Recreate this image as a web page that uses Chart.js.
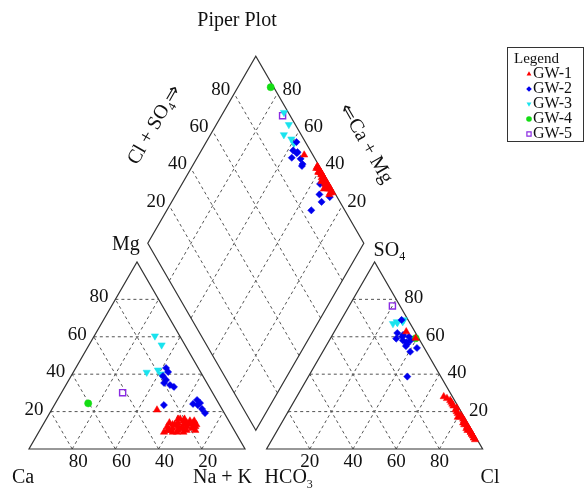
<!DOCTYPE html>
<html><head><meta charset="utf-8">
<script src="https://cdn.jsdelivr.net/npm/chart.js@4.4.0/dist/chart.umd.min.js"></script>
<style>html,body{margin:0;padding:0;background:#fff;}canvas{display:block;}</style>
</head><body>
<canvas id="c" width="588" height="490"></canvas>
<script>
// ---- DATA (milliequivalent percentages) ----
const seriesNames = ['GW-1','GW-2','GW-3','GW-4','GW-5'];
const tickValues = [20,40,60,80];

const gw1_Ca  = [33,31,30,29,28,27,26,26,25,24,24,23,23,22,22,21,21,20,20,19,19,18,18,17,18,16,16,17,28,30,25,27,30.3,22,24];
const gw1_Mg  = [9,10,12,9,11,13,10,13,12,9,14,11,16,13,10,15,12,14,16,11,13,15,12,14,10,13,15,12,14,10,13,9,20.9,16,11];
const gw1_SO4 = [6,8,10,12,7,14,9,16,11,18,13,20,15,5,22,17,24,10,26,12,19,28,8,21,15,23,6,27,11,13,9,17,62.7,59.2,25];
const gw1_Cl  = [93,91,88,87,92,84,90,83,87,81,86,78,84,94,77,81,74,89,72,87,79,68,91,77,84,75,93,70,88,85,90,80,33.3,39.4,73];

const gw2_Ca  = [14.9,18.5,15.0,18.1,19.8,17.6,16.3,25.8,12.0,9.1,10.1,8.5,9.2,8.9];
const gw2_Mg  = [43.3,39.0,41.2,36.9,35.3,34.2,33.2,23.5,24.1,26.2,23.5,24.6,21.4,19.2];
const gw2_SO4 = [60,58,59,61,56,57,60,55,58,69,52,38.7,62,54];
const gw2_Cl  = [35.9,34.1,30.5,32.7,37,36.3,32.8,37,37.6,28,40.5,45.8,29.5,42.6];

const gw3_Ca  = [11.5,10.8,25,19.2,18.9];
const gw3_Mg  = [60.4,55.6,41,42.2,40.1];
const gw3_SO4 = [69,68,67,68,67.5];
const gw3_Cl  = [29,29,25,26.3,26.8];

const gw4_Ca  = [60.4];
const gw4_Mg  = [24.4];
const gw4_SO4 = [59.2];
const gw4_Cl  = [39.4];

const gw5_Ca  = [41.6];
const gw5_Mg  = [30.1];
const gw5_SO4 = [76.5];
const gw5_Cl  = [20];

// ---- Piper projections (data space: left triangle base 0..100) ----
const H = Math.sqrt(3)/2, GAP = 10;
function cationXY(ca, mg){ const nak = 100-ca-mg; return {x: nak + mg/2, y: mg*H}; }
function anionXY(so4, cl){ return {x: 100+GAP + cl + so4/2, y: so4*H}; }
function diamondXY(cm, cs){ return {x: 100+GAP/2 + (cs-cm)/2, y: GAP*H + (cs+cm)*H}; }

function project(ca, mg, so4, cl){
  const pts = [];
  for (let i=0;i<ca.length;i++){
    pts.push(cationXY(ca[i], mg[i]));
    pts.push(anionXY(so4[i], cl[i]));
    pts.push(diamondXY(ca[i]+mg[i], so4[i]+cl[i]));
  }
  return pts;
}

const seriesData = [
  project(gw1_Ca,gw1_Mg,gw1_SO4,gw1_Cl),
  project(gw2_Ca,gw2_Mg,gw2_SO4,gw2_Cl),
  project(gw3_Ca,gw3_Mg,gw3_SO4,gw3_Cl),
  project(gw4_Ca,gw4_Mg,gw4_SO4,gw4_Cl),
  project(gw5_Ca,gw5_Mg,gw5_SO4,gw5_Cl)
];

const markerStyles = [
  {color:'#ff0000', style:'triangle', r:4.2, rot:0,   fill:true},
  {color:'#0000ee', style:'rectRot',  r:3.6, rot:0,   fill:true},
  {color:'#19e3ee', style:'triangle', r:4.2, rot:180, fill:true},
  {color:'#14dd14', style:'circle',   r:3.6, rot:0,   fill:true},
  {color:'#8a2be2', style:'rect',     r:4.3, rot:0,   fill:false}
];

const datasets = seriesNames.map((n,i)=>({
  label:n,
  data: seriesData[i],
  pointStyle: markerStyles[i].style,
  pointRadius: markerStyles[i].r,
  pointRotation: markerStyles[i].rot,
  backgroundColor: markerStyles[i].fill ? markerStyles[i].color : 'rgba(0,0,0,0)',
  borderColor: markerStyles[i].color,
  borderWidth: markerStyles[i].fill ? 0.5 : 1.4,
  showLine:false
}));

const SERIF = '"Liberation Serif","Times New Roman",serif';

function drawParts(ctx, parts, x, y, align, size){
  const main = size+'px '+SERIF, sub = Math.round(size*0.62)+'px '+SERIF;
  let w = 0;
  parts.forEach(p=>{ ctx.font = p[1]?sub:main; w += ctx.measureText(p[0]).width; });
  let cx = align==='center' ? x - w/2 : (align==='right' ? x - w : x);
  ctx.textAlign='left'; ctx.textBaseline='middle';
  parts.forEach(p=>{
    ctx.font = p[1]?sub:main;
    ctx.fillText(p[0], cx, y + (p[1]? size*0.32 : 0));
    cx += ctx.measureText(p[0]).width;
  });
}

function marker(ctx, st, x, y, r){
  ctx.save();
  ctx.fillStyle = st.color; ctx.strokeStyle = st.color; ctx.lineWidth = 1.2;
  ctx.beginPath();
  if (st.style==='triangle'){
    const s = st.rot===180 ? -1 : 1;
    ctx.moveTo(x, y - s*r); ctx.lineTo(x + r*0.866, y + s*r*0.5); ctx.lineTo(x - r*0.866, y + s*r*0.5); ctx.closePath(); ctx.fill();
  } else if (st.style==='rectRot'){
    ctx.moveTo(x, y-r); ctx.lineTo(x+r, y); ctx.lineTo(x, y+r); ctx.lineTo(x-r, y); ctx.closePath(); ctx.fill();
  } else if (st.style==='circle'){
    ctx.arc(x, y, r, 0, Math.PI*2); ctx.fill();
  } else {
    ctx.rect(x-r*0.75, y-r*0.75, r*1.5, r*1.5); ctx.stroke();
  }
  ctx.restore();
}

const piperPlugin = {
  id:'piper',
  beforeDatasetsDraw(chart){
    const {ctx, scales:{x, y}} = chart;
    const P = p => [x.getPixelForValue(p.x), y.getPixelForValue(p.y)];
    const line = (a,b)=>{ const A=P(a), B=P(b); ctx.beginPath(); ctx.moveTo(A[0],A[1]); ctx.lineTo(B[0],B[1]); ctx.stroke(); };
    ctx.save();
    ctx.setLineDash([3,3]); ctx.strokeStyle='#555'; ctx.lineWidth=1;
    tickValues.forEach(t=>{
      line(cationXY(100-t, t), cationXY(0, t));
      line(cationXY(t, 0), cationXY(t, 100-t));
      line(cationXY(100-t, 0), cationXY(0, 100-t));
      line(anionXY(t, 0), anionXY(t, 100-t));
      line(anionXY(0, t), anionXY(100-t, t));
      line(anionXY(0, 100-t), anionXY(100-t, 0));
      line(diamondXY(t, 0), diamondXY(t, 100));
      line(diamondXY(0, t), diamondXY(100, t));
    });
    ctx.setLineDash([]); ctx.strokeStyle='#333'; ctx.lineWidth=1.2;
    const poly = pts=>{ ctx.beginPath(); pts.forEach((p,i)=>{const q=P(p); i?ctx.lineTo(q[0],q[1]):ctx.moveTo(q[0],q[1]);}); ctx.closePath(); ctx.stroke(); };
    poly([cationXY(100,0), cationXY(0,0), cationXY(0,100)]);
    poly([anionXY(0,0), anionXY(0,100), anionXY(100,0)]);
    poly([diamondXY(0,0), diamondXY(100,0), diamondXY(100,100), diamondXY(0,100)]);
    ctx.restore();
  },
  afterDatasetsDraw(chart){
    const {ctx, scales:{x, y}} = chart;
    const P = p => [x.getPixelForValue(p.x), y.getPixelForValue(p.y)];
    ctx.save();
    ctx.fillStyle='#111';
    const FS = 19;
    tickValues.forEach(t=>{
      const s = String(t);
      let q = P(cationXY(t, 0));            drawParts(ctx, [[s,false]], q[0]+6, 462, 'center', FS);
      q = P(cationXY(100-t, t));            drawParts(ctx, [[s,false]], q[0]-7, q[1]-2, 'right', FS);
      q = P(anionXY(0, t));                 drawParts(ctx, [[s,false]], q[0], 462, 'center', FS);
      q = P(anionXY(t, 100-t));             drawParts(ctx, [[s,false]], q[0]+8, q[1]-1, 'left', FS);
      q = P(diamondXY(100, t));             drawParts(ctx, [[s,false]], q[0]-4, q[1]-4, 'right', FS);
      q = P(diamondXY(t, 100));             drawParts(ctx, [[s,false]], q[0]+5, q[1]-4, 'left', FS);
    });
    let q = P(cationXY(100,0)); drawParts(ctx, [['Ca',false]], q[0]-17, 478, 'left', 20);
    q = P(cationXY(0,0));       drawParts(ctx, [['Na + K',false]], q[0]+7, 478, 'right', 20);
    q = P(cationXY(0,100));     drawParts(ctx, [['Mg',false]], q[0]-25, q[1]-17, 'left', 20);
    q = P(anionXY(0,0));        drawParts(ctx, [['HCO',false],['3',true]], q[0]-2, 478, 'left', 20);
    q = P(anionXY(0,100));      drawParts(ctx, [['Cl',false]], q[0]-2, 478, 'left', 20);
    q = P(anionXY(100,0));      drawParts(ctx, [['SO',false],['4',true]], q[0]-1, q[1]-11, 'left', 20);
    const mL = P(diamondXY(100,50)), mR = P(diamondXY(50,100));
    ctx.save(); ctx.translate(mL[0]-47, mL[1]-25); ctx.rotate(-Math.PI/3);
    drawParts(ctx, [['Cl + SO',false],['4',true],['\u21D2',false]], 0, 0, 'center', 20); ctx.restore();
    ctx.save(); ctx.translate(mR[0]+56, mR[1]-6); ctx.rotate(Math.PI/3);
    drawParts(ctx, [['\u21D0Ca + Mg',false]], 0, 0, 'center', 20); ctx.restore();
    drawParts(ctx, [['Piper Plot',false]], 237, 21, 'center', 20);
    ctx.fillStyle='#fff'; ctx.strokeStyle='#333'; ctx.lineWidth=1;
    ctx.fillRect(507.5, 47.5, 76, 94); ctx.strokeRect(507.5, 47.5, 76, 94);
    ctx.fillStyle='#111';
    drawParts(ctx, [['Legend',false]], 514, 59, 'left', 15);
    seriesNames.forEach((n,i)=>{
      const yy = 74 + i*15;
      marker(ctx, markerStyles[i], 529, yy, 2.8);
      ctx.fillStyle='#111';
      drawParts(ctx, [[n,false]], 533, yy, 'left', 16);
    });
    ctx.restore();
  }
};

new Chart(document.getElementById('c'), {
  type:'scatter',
  data:{ datasets },
  options:{
    responsive:false, animation:false, devicePixelRatio:1,
    layout:{ padding:0, autoPadding:false },
    plugins:{ legend:{display:false}, tooltip:{enabled:false}, title:{display:false} },
    scales:{
      x:{ type:'linear', display:false, min:-29/2.16, max:(588-29)/2.16 },
      y:{ type:'linear', display:false, min:(449-490)/2.16, max:449/2.16 }
    }
  },
  plugins:[piperPlugin]
});
</script>
</body></html>
